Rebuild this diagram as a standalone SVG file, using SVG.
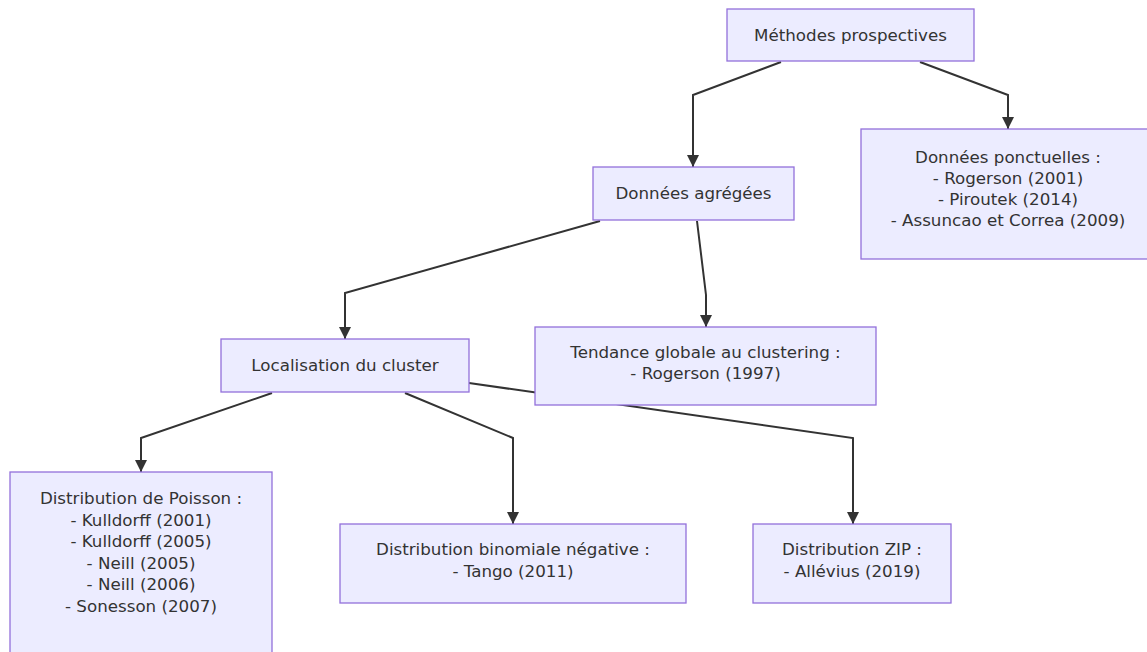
<svg xmlns="http://www.w3.org/2000/svg" width="1147" height="652" viewBox="0 0 1147 652">
<style>
.node rect{fill:#ECECFF;stroke:#9370DB;stroke-width:1.3}
.node text{font-family:"DejaVu Sans","Liberation Sans",sans-serif;font-size:16.7px;fill:#333;text-anchor:middle}
.edge{fill:none;stroke:#333;stroke-width:2;marker-end:url(#arr)}
</style>
<defs>
<marker id="arr" markerUnits="userSpaceOnUse" markerWidth="12" markerHeight="12" viewBox="0 0 10 10" refX="10" refY="5" orient="auto">
<path d="M0,0 L10,5 L0,10 z" fill="#333"/>
</marker>
</defs>
<rect width="1147" height="652" fill="#ffffff"/>
<g id="connectors">
<path class="edge" d="M781,62 L693,95 L693,167"/>
<path class="edge" d="M920,62 L1008,95 L1008,129"/>
<path class="edge" d="M600,221 L345,293 L345,339"/>
<path class="edge" d="M697,221 L706,295 L706,327"/>
<path class="edge" d="M272,393 L141,438 L141,472"/>
<path class="edge" d="M405,393 L513,438 L513,524"/>
<path class="edge" d="M469,383 L853,438 L853,524"/>
</g>
<g id="n-methodes" class="node">
<rect x="727" y="9" width="247" height="52"/>
<text x="850.5" y="41">Méthodes prospectives</text>
</g>
<g id="n-agregees" class="node">
<rect x="593" y="167" width="201" height="53"/>
<text x="693.5" y="199">Données agrégées</text>
</g>
<g id="n-ponctuelles" class="node">
<rect x="861" y="129" width="294" height="130"/>
<text x="1008" y="163">Données ponctuelles :</text>
<text x="1008" y="184">- Rogerson (2001)</text>
<text x="1008" y="205">- Piroutek (2014)</text>
<text x="1008" y="226">- Assuncao et Correa (2009)</text>
</g>
<g id="n-localisation" class="node">
<rect x="221" y="339" width="248" height="53"/>
<text x="345" y="371">Localisation du cluster</text>
</g>
<g id="n-tendance" class="node">
<rect x="535" y="327" width="341" height="78"/>
<text x="705.5" y="358">Tendance globale au clustering :</text>
<text x="705.5" y="379">- Rogerson (1997)</text>
</g>
<g id="n-poisson" class="node">
<rect x="10" y="472" width="262" height="200"/>
<text x="141" y="504">Distribution de Poisson :</text>
<text x="141" y="525.5">- Kulldorff (2001)</text>
<text x="141" y="547">- Kulldorff (2005)</text>
<text x="141" y="568.5">- Neill (2005)</text>
<text x="141" y="590">- Neill (2006)</text>
<text x="141" y="611.5">- Sonesson (2007)</text>
</g>
<g id="n-binomiale" class="node">
<rect x="340" y="524" width="346" height="79"/>
<text x="513" y="555">Distribution binomiale négative :</text>
<text x="513" y="577">- Tango (2011)</text>
</g>
<g id="n-zip" class="node">
<rect x="753" y="524" width="198" height="79"/>
<text x="852" y="555">Distribution ZIP :</text>
<text x="852" y="577">- Allévius (2019)</text>
</g>
</svg>
